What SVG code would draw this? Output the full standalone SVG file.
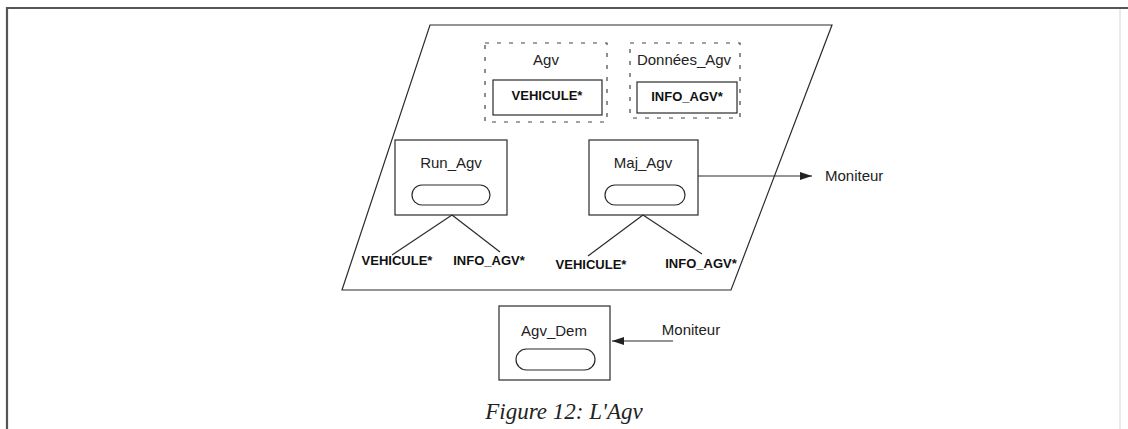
<svg xmlns="http://www.w3.org/2000/svg" width="1128" height="429" viewBox="0 0 1128 429">
<defs>
<style>
.ln{fill:none;stroke:#2a2a2a;stroke-width:1.2}
.dash{fill:none;stroke:#444;stroke-width:1.2;stroke-dasharray:4 8}
.t{font-family:"Liberation Sans",Arial,sans-serif;font-size:15px;fill:#222;text-anchor:middle}
.b{font-family:"Liberation Sans",Arial,sans-serif;font-size:13px;font-weight:bold;fill:#111;text-anchor:middle}
.cap{font-family:"Liberation Serif","Times New Roman",serif;font-size:23px;font-style:italic;fill:#222;text-anchor:middle}
</style>
<marker id="arr" viewBox="0 0 12 8" refX="12" refY="4" markerWidth="12" markerHeight="8" markerUnits="userSpaceOnUse" orient="auto">
<path d="M0,0 L12,4 L0,8 Z" fill="#222"/>
</marker>
</defs>
<rect width="1128" height="429" fill="#fff"/>
<g id="frame">
<path d="M7,429 L7,8 L1128,8" fill="none" stroke="#555" stroke-width="2.2"/>
<line x1="1120" y1="9" x2="1120" y2="429" stroke="#e4e4e4" stroke-width="1.5"/>
</g>
<g id="parallelogram">
<polygon class="ln" points="430,25 832,25 731,290 342,290"/>
</g>
<g id="agv">
<rect class="dash" x="485" y="43" width="122" height="79"/>
<text class="t" x="546" y="65">Agv</text>
<rect class="ln" x="493" y="80" width="109" height="35"/>
<text class="b" x="547" y="100">VEHICULE*</text>
</g>
<g id="donnees_agv">
<rect class="dash" x="630" y="43" width="110" height="75"/>
<text class="t" x="684" y="65">Données_Agv</text>
<rect class="ln" x="637" y="82" width="100" height="31"/>
<text class="b" x="687" y="101">INFO_AGV*</text>
</g>
<g id="run_agv">
<rect class="ln" x="395" y="140" width="112" height="75"/>
<text class="t" x="451" y="168">Run_Agv</text>
<rect class="ln" x="412" y="185" width="78" height="20" rx="10"/>
</g>
<g id="maj_agv">
<rect class="ln" x="589" y="140" width="109" height="75"/>
<text class="t" x="643" y="168">Maj_Agv</text>
<rect class="ln" x="605" y="185" width="80" height="20" rx="10"/>
</g>
<g id="agv_dem">
<rect class="ln" x="499" y="306" width="111" height="74"/>
<text class="t" x="554" y="336">Agv_Dem</text>
<rect class="ln" x="516" y="349" width="79" height="21" rx="10.5"/>
</g>
<g id="labels">
<text class="b" x="397" y="265">VEHICULE*</text>
<text class="b" x="489" y="265">INFO_AGV*</text>
<text class="b" x="591" y="269">VEHICULE*</text>
<text class="b" x="701" y="268">INFO_AGV*</text>
<text class="t" x="825" y="181" style="text-anchor:start">Moniteur</text>
<text class="t" x="691" y="335">Moniteur</text>
</g>
<g id="connectors">
<line class="ln" x1="452" y1="215" x2="392" y2="255"/>
<line class="ln" x1="452" y1="215" x2="500" y2="252"/>
<line class="ln" x1="643" y1="215" x2="588" y2="256"/>
<line class="ln" x1="643" y1="215" x2="702" y2="254"/>
<line class="ln" x1="698" y1="176" x2="812" y2="176" marker-end="url(#arr)"/>
<line class="ln" x1="673" y1="341" x2="612" y2="341" marker-end="url(#arr)"/>
</g>
<text class="cap" x="564" y="419">Figure 12: L'Agv</text>
</svg>
